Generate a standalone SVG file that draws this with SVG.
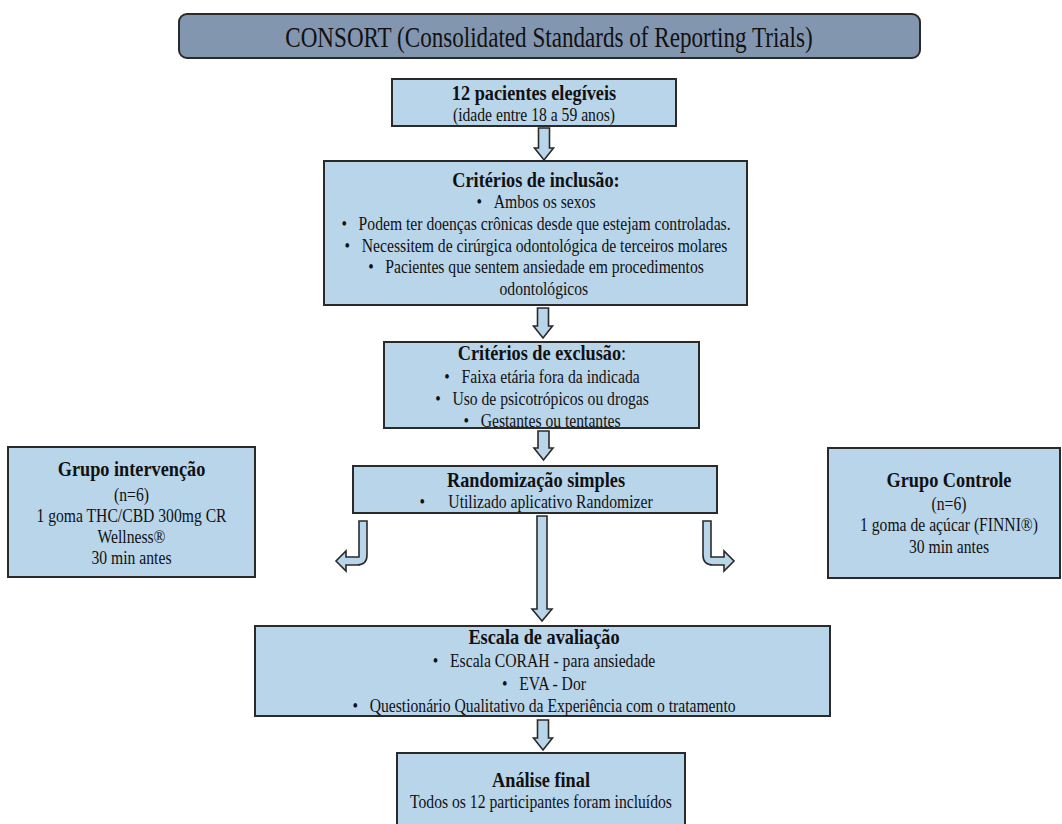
<svg xmlns="http://www.w3.org/2000/svg" width="1062" height="824" viewBox="0 0 1062 824">
<style>
.box{fill:#b9d5ea;stroke:#2a2a2a;stroke-width:2}
.arrow{fill:#b9d5ea;stroke:#2a2a2a;stroke-width:1.6;stroke-linejoin:miter}
text{font-family:"Liberation Serif","Times New Roman",serif;fill:#111;text-anchor:middle}
.b{font-weight:bold;font-size:21px}
.n{font-size:18px}
.nw{font-weight:normal}
</style>
<rect width="1062" height="824" fill="#ffffff"/>
<g id="title">
<rect x="179" y="14" width="741" height="44" rx="8" fill="#8396b0" stroke="#2a2a2a" stroke-width="2"/>
<g transform="translate(549,0) scale(0.77,1)"><text x="0" y="47" style="font-size:30px">CONSORT (Consolidated Standards of Reporting Trials)</text></g>
</g>
<g id="elegiveis">
<rect class="box" x="392" y="79" width="284" height="47"/>
<g transform="translate(534,0) scale(0.87,1)">
<text class="b" x="0" y="100">12 pacientes elegíveis</text>
<text class="n" x="0" y="121">(idade entre 18 a 59 anos)</text>
</g>
</g>
<g id="inclusao">
<rect class="box" x="324" y="161" width="423" height="144"/>
<g transform="translate(536,0) scale(0.87,1)">
<text class="b" x="0" y="187">Critérios de inclusão:</text>
<text class="n" x="0" y="208">•&#160;&#160;&#160;Ambos os sexos</text>
<text class="n" x="0" y="230">•&#160;&#160;&#160;Podem ter doenças crônicas desde que estejam controladas.</text>
<text class="n" x="0" y="252">•&#160;&#160;&#160;Necessitem de cirúrgica odontológica de terceiros molares</text>
<text class="n" x="0" y="273">•&#160;&#160;&#160;Pacientes que sentem ansiedade em procedimentos</text>
<text class="n" x="9" y="295">odontológicos</text>
</g>
</g>
<g id="exclusao">
<rect class="box" x="384" y="342" width="315" height="86"/>
<g transform="translate(542,0) scale(0.87,1)">
<text class="b" x="0" y="360">Critérios de exclusão<tspan class="nw">:</tspan></text>
<text class="n" x="0" y="383">•&#160;&#160;&#160;Faixa etária fora da indicada</text>
<text class="n" x="0" y="405">•&#160;&#160;&#160;Uso de psicotrópicos ou drogas</text>
<text class="n" x="0" y="427">•&#160;&#160;&#160;Gestantes ou tentantes</text>
</g>
</g>
<g id="randomizacao">
<rect class="box" x="353" y="466" width="364" height="47"/>
<g transform="translate(536,0) scale(0.87,1)">
<text class="b" x="0" y="487">Randomização simples</text>
<text class="n" x="0" y="508">•&#160;&#160;&#160;&#160;&#160;&#160;Utilizado aplicativo Randomizer</text>
</g>
</g>
<g id="intervencao">
<rect class="box" x="8" y="447" width="247" height="130"/>
<g transform="translate(131.5,0) scale(0.87,1)">
<text class="b" x="0" y="476">Grupo intervenção</text>
<text class="n" x="0" y="501">(n=6)</text>
<text class="n" x="0" y="522">1 goma THC/CBD 300mg CR</text>
<text class="n" x="0" y="543">Wellness®</text>
<text class="n" x="0" y="564">30 min antes</text>
</g>
</g>
<g id="controle">
<rect class="box" x="828" y="448" width="232" height="130"/>
<g transform="translate(949,0) scale(0.87,1)">
<text class="b" x="0" y="487">Grupo Controle</text>
<text class="n" x="0" y="510">(n=6)</text>
<text class="n" x="0" y="531">1 goma de açúcar (FINNI®)</text>
<text class="n" x="0" y="553">30 min antes</text>
</g>
</g>
<g id="escala">
<rect class="box" x="255" y="626" width="575" height="90"/>
<g transform="translate(544,0) scale(0.87,1)">
<text class="b" x="0" y="644">Escala de avaliação</text>
<text class="n" x="0" y="667">•&#160;&#160;&#160;Escala CORAH - para ansiedade</text>
<text class="n" x="0" y="690">•&#160;&#160;&#160;EVA - Dor</text>
<text class="n" x="0" y="712">•&#160;&#160;&#160;Questionário Qualitativo da Experiência com o tratamento</text>
</g>
</g>
<g id="analise">
<rect class="box" x="397" y="753" width="288" height="80"/>
<g transform="translate(541,0) scale(0.87,1)">
<text class="b" x="0" y="787">Análise final</text>
<text class="n" x="0" y="808">Todos os 12 participantes foram incluídos</text>
</g>
</g>
<g id="connectors">
<path class="arrow" d="M538.5,128 H549.5 V148 H553.5 L544,160 L534.5,148 H538.5 Z"/>
<path class="arrow" d="M537.5,308 H548.5 V326 H552.5 L543,338 L533.5,326 H537.5 Z"/>
<path class="arrow" d="M538,431 H549 V448 H553 L543.5,460 L534,448 H538 Z"/>
<path class="arrow" d="M537,516 H547 V609 H552 L542,621 L532,609 H537 Z"/>
<path class="arrow" d="M537.5,720 H548.5 V738 H552.5 L543,750 L533.5,738 H537.5 Z"/>
<path class="arrow" d="M359,521 H367 V555 Q367,565 357,565 H346 V571 L336,561 L346,551 V557 H359 Z"/>
<path class="arrow" d="M703,521 H711 V557 H724 V551 L734,561 L724,571 V565 H713 Q703,565 703,555 Z"/>
</g>
</svg>
